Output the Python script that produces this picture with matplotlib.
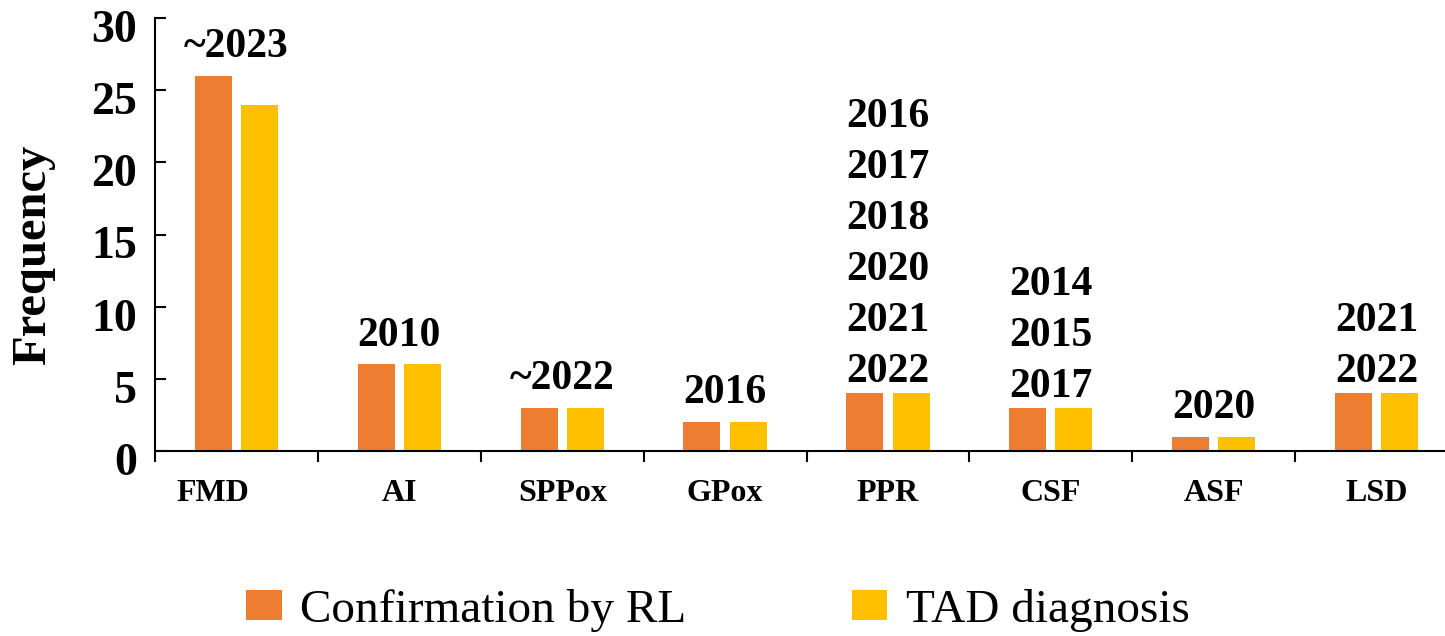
import matplotlib
matplotlib.use("Agg")
import matplotlib.pyplot as plt
from matplotlib.transforms import ScaledTranslation
import numpy as np

categories = ["FMD", "AI", "SPPox", "GPox", "PPR", "CSF", "ASF", "LSD"]
confirmation_rl = [26, 6, 3, 2, 4, 3, 1, 4]
tad_diagnosis = [24, 6, 3, 2, 4, 3, 1, 4]
year_labels = [
    ["~2023"],
    ["2010"],
    ["~2022"],
    ["2016"],
    ["2016", "2017", "2018", "2020", "2021", "2022"],
    ["2014", "2015", "2017"],
    ["2020"],
    ["2021", "2022"],
]
yticks = [0, 5, 10, 15, 20, 25, 30]

plt.rcParams["font.family"] = ["Liberation Serif", "DejaVu Serif"]

W, H = 1445, 636
fig = plt.figure(figsize=(W / 100, H / 100), dpi=100)
ax_w = 1458 - 155
ax = fig.add_axes([155 / W, 1 - 451 / H, ax_w / W, (451 - 18) / H])

x = np.arange(len(categories))
bw = 0.227
off = 0.142
c1, c2 = "#ED7D31", "#FFC000"
b1 = ax.bar(x - off, confirmation_rl, bw, color=c1, label="Confirmation by RL")
b2 = ax.bar(x + off, tad_diagnosis, bw, color=c2, label="TAD diagnosis")

line_step = 51 * 72 / 100  # points between stacked year lines
for i, labs in enumerate(year_labels):
    top = max(confirmation_rl[i], tad_diagnosis[i])
    base = 13.5 if len(labs) == 1 else 8.0
    for k, lab in enumerate(reversed(labs)):
        ax.annotate(lab, xy=(x[i], top), xytext=(0, base + k * line_step),
                    textcoords="offset points", ha="center", va="baseline",
                    fontsize=30, fontweight="bold")

ax.set_xlim(-0.5, len(categories) - 0.5)
ax.set_ylim(0, 30)
ax.set_yticks(yticks)
ax.set_yticklabels([str(v) for v in yticks], fontsize=33, fontweight="bold")
ax.tick_params(axis="y", direction="in", length=8, width=1.5, pad=13)
shift = ScaledTranslation(0, -8 / 100, fig.dpi_scale_trans)
for lab in ax.get_yticklabels():
    lab.set_transform(lab.get_transform() + shift)

ax.set_xticks(np.arange(len(categories) + 1) - 0.5)
ax.set_xticklabels([])
ax.set_xticks(x, minor=True)
ax.set_xticklabels(categories, minor=True, fontsize=23, fontweight="bold")
ax.tick_params(axis="x", which="major", direction="out", length=8, width=1.5)
ax.tick_params(axis="x", which="minor", length=0, pad=20)
# the first category label sits left of its group centre in the reference
first = ax.get_xticklabels(minor=True)[0]
first.set_transform(first.get_transform()
                    + ScaledTranslation(-24 / 100, 0, fig.dpi_scale_trans))

for s in ["top", "right"]:
    ax.spines[s].set_visible(False)
for s in ["left", "bottom"]:
    ax.spines[s].set_linewidth(1.5)

ax.set_ylabel("Frequency", fontsize=35, fontweight="bold")
ax.yaxis.set_label_coords(-(155 - 55) / ax_w, (451 - 255) / 433)

fig.legend(handles=[b1, b2], loc="center", bbox_to_anchor=(0.497, 1 - 610 / H),
           ncol=2, frameon=False, fontsize=34, handlelength=0.75,
           handleheight=0.6, handletextpad=0.4, columnspacing=3.5)

fig.savefig("out.png", dpi=100)
